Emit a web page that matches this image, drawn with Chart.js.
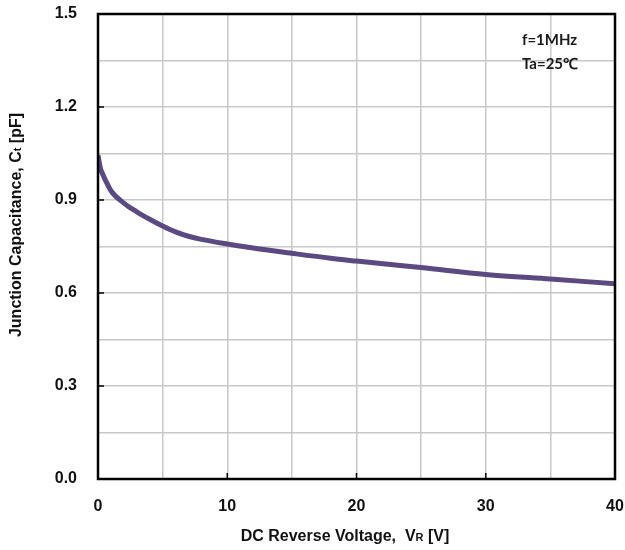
<!DOCTYPE html>
<html>
<head>
<meta charset="utf-8">
<script src="https://cdn.jsdelivr.net/npm/chart.js@4.4.1/dist/chart.umd.min.js"></script>
<style>
  html, body { margin: 0; padding: 0; background: #fff; }
  #wrap { width: 625px; height: 550px; }
</style>
</head>
<body>
<div id="wrap"><canvas id="capChart" width="625" height="550"></canvas></div>
<script>
// values
const voltage = [0, 0.1, 0.2, 0.4, 0.6, 1, 2, 3, 4, 5, 6, 7, 8, 10, 12, 15, 18, 20, 23, 25, 30, 35, 40];
const capacitance = [1.045, 1.02, 1.0, 0.98, 0.962, 0.93, 0.89, 0.862, 0.838, 0.816, 0.797, 0.783, 0.773, 0.758, 0.745, 0.728, 0.712, 0.703, 0.69, 0.682, 0.66, 0.645, 0.63];
const xTickLabels = [0, 10, 20, 30, 40];
const yTickLabels = [0.0, 0.3, 0.6, 0.9, 1.2, 1.5];
const notes = ['f=1MHz', 'Ta=25℃'];

const BOLD = '"Liberation Sans", Arial, sans-serif';

function drawRuns(ctx, runs, cx, cy) {
  let total = 0;
  runs.forEach(r => {
    ctx.font = r.font;
    r.w = ctx.measureText(r.text).width;
    total += r.w;
  });
  let x = cx - total / 2;
  runs.forEach(r => {
    ctx.font = r.font;
    ctx.fillText(r.text, x, cy + 6);
    x += r.w;
  });
}

// drop the label overhang chart.js reserves, the frame is placed by layout padding
function noOverhang(s) {
  s.paddingTop = 0;
  s.paddingBottom = 0;
  s.paddingLeft = 0;
  s.paddingRight = 0;
}

const framePlugin = {
  id: 'frame',
  afterDatasetsDraw(chart) {
    const { ctx, chartArea: a, scales } = chart;
    ctx.save();
    // small inside tick marks at labelled values
    ctx.strokeStyle = '#000';
    ctx.lineWidth = 1.5;
    yTickLabels.forEach(v => {
      const y = scales.y.getPixelForValue(v);
      ctx.beginPath();
      ctx.moveTo(a.left, y);
      ctx.lineTo(a.left + 6, y);
      ctx.stroke();
    });
    xTickLabels.forEach(v => {
      const x = scales.x.getPixelForValue(v);
      ctx.beginPath();
      ctx.moveTo(x, a.bottom);
      ctx.lineTo(x, a.bottom - 6);
      ctx.stroke();
    });
    ctx.lineWidth = 2.5;
    ctx.strokeRect(a.left, a.top, a.right - a.left, a.bottom - a.top);

    // condition notes
    ctx.fillStyle = '#1a1a1a';
    ctx.font = 'bold 15px Lato, "Open Sans", sans-serif';
    ctx.textBaseline = 'middle';
    ctx.textAlign = 'left';
    ctx.fillText(notes[0], 522, 40);
    ctx.fillText(notes[1], 522, 64);

    // axis titles with subscripts
    ctx.fillStyle = '#111';
    ctx.textBaseline = 'alphabetic';
    const big = 'bold 16px ' + BOLD;
    const small = 'bold 11px ' + BOLD;
    drawRuns(ctx, [
      { text: 'DC Reverse Voltage,  V', font: big },
      { text: 'R', font: small },
      { text: ' [V]', font: big }
    ], 345, 535);
    ctx.translate(15, 225);
    ctx.rotate(-Math.PI / 2);
    drawRuns(ctx, [
      { text: 'Junction Capacitance, C', font: big },
      { text: 't', font: small },
      { text: ' [pF]', font: big }
    ], 0, 0);
    ctx.restore();
  }
};

new Chart(document.getElementById('capChart'), {
  type: 'line',
  data: {
    datasets: [{
      data: voltage.map((v, i) => ({ x: v, y: capacitance[i] })),
      borderColor: '#5b4a82',
      borderWidth: 5,
      pointRadius: 0,
      fill: false,
      cubicInterpolationMode: 'monotone'
    }]
  },
  options: {
    responsive: false,
    animation: false,
    layout: { padding: { top: 14, right: 10, left: 0, bottom: 0 } },
    plugins: { legend: { display: false }, tooltip: { enabled: false } },
    scales: {
      x: {
        type: 'linear',
        min: 0,
        max: 40,
        afterFit: s => { s.height = 71; noOverhang(s); },
        border: { display: false },
        grid: { color: '#c8c8c8', lineWidth: 1.5, drawTicks: false },
        ticks: {
          stepSize: 5,
          padding: 18,
          color: '#111',
          font: { family: BOLD, size: 16, weight: 'bold' },
          callback: v => (xTickLabels.includes(v) ? String(v) : '')
        }
      },
      y: {
        min: 0,
        max: 1.5,
        afterFit: s => { s.width = 98; noOverhang(s); },
        border: { display: false },
        grid: { color: '#c8c8c8', lineWidth: 1.5, drawTicks: false },
        ticks: {
          stepSize: 0.15,
          padding: 21,
          color: '#111',
          font: { family: BOLD, size: 16, weight: 'bold' },
          callback: v => {
            const hit = yTickLabels.find(t => Math.abs(t - v) < 1e-6);
            return hit === undefined ? '' : hit.toFixed(1);
          }
        }
      }
    }
  },
  plugins: [framePlugin]
});
</script>
</body>
</html>
